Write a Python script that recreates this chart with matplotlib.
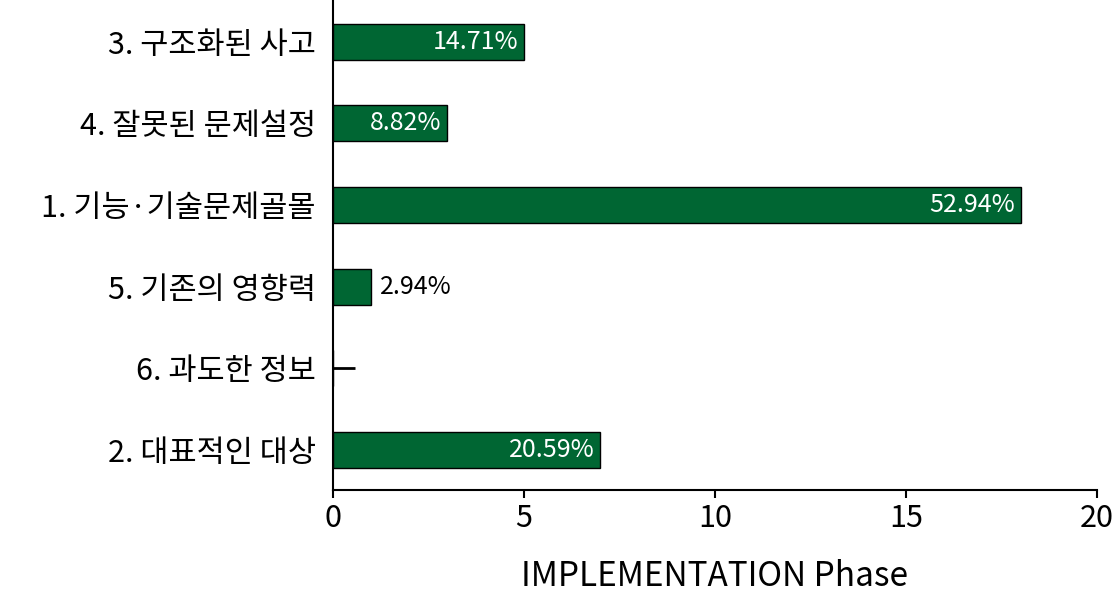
import matplotlib
matplotlib.use("Agg")
import matplotlib.pyplot as plt

plt.rcParams['font.family'] = ['Noto Sans CJK KR', 'DejaVu Sans']

categories = ["3. 구조화된 사고", "4. 잘못된 문제설정", "1. 기능·기술문제골몰",
              "5. 기존의 영향력", "6. 과도한 정보", "2. 대표적인 대상"]
values = [5, 3, 18, 1, 0, 7]
labels = ["14.71%", "8.82%", "52.94%", "2.94%", "", "20.59%"]

fig = plt.figure(figsize=(11.16, 6.07), dpi=100)
ax = fig.add_axes([0.298, 0.193, 0.685, 0.807])
ax.set_axisbelow(True)
ys = list(range(len(categories)))
ax.barh(ys, values, height=0.44, color="#006633", edgecolor="black", linewidth=1, zorder=3)
for y, v, l in zip(ys, values, labels):
    if not l:
        continue
    if v >= 3:
        ax.text(v - 0.15, y, l, ha="right", va="center", color="white", fontsize=18, zorder=4)
    else:
        ax.text(v + 0.25, y, l, ha="left", va="center", color="black", fontsize=18, zorder=4)
ax.set_yticks(ys)
ax.set_yticklabels(categories, fontsize=22)
ax.set_ylim(5.49, -0.51)
ax.set_xlim(0, 20)
ax.set_xticks([0, 5, 10, 15, 20])
ax.tick_params(axis="x", labelsize=22, direction="out", length=6, width=1.5)
ax.tick_params(axis="y", direction="in", length=16, width=2, pad=12)
for s in ["top", "right"]:
    ax.spines[s].set_visible(False)
for s in ["left", "bottom"]:
    ax.spines[s].set_linewidth(1.5)
ax.set_xlabel("IMPLEMENTATION Phase", fontsize=24, fontweight="medium", labelpad=18)
fig.savefig("out.png", dpi=100)
